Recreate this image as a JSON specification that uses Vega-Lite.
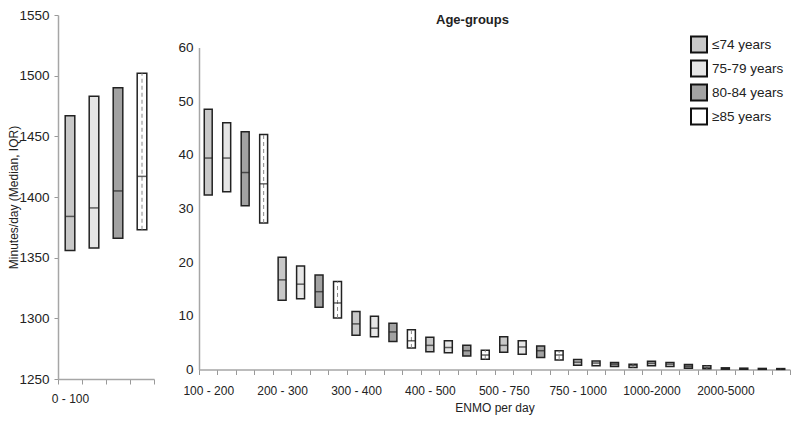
{
  "$schema": "https://vega.github.io/schema/vega-lite/v6.json",
  "background": "white",
  "padding": {"left": 7, "top": 8, "right": 5, "bottom": 5},
  "center": true,
  "config": {
    "font": "Liberation Sans",
    "view": {"stroke": null},
    "axis": {
      "labelFont": "Liberation Sans", "labelFontSize": 13.5, "labelColor": "#222",
      "domainColor": "#a6a6a6", "tickColor": "#999999", "domainWidth": 1.5, "tickWidth": 1,
      "grid": false, "titleFont": "Liberation Sans", "titleFontWeight": "normal",
      "titleFontSize": 12, "titleColor": "#222"
    },
    "legend": {"labelFont": "Liberation Sans"},
    "concat": {"spacing": 22}
  },
  "datasets": {
    "boxes": [
      {"enmo": "0 - 100", "age": "≤74 years", "q1": 1356, "median": 1384, "q3": 1467},
      {"enmo": "0 - 100", "age": "75-79 years", "q1": 1358, "median": 1391, "q3": 1483},
      {"enmo": "0 - 100", "age": "80-84 years", "q1": 1366, "median": 1405, "q3": 1490},
      {"enmo": "0 - 100", "age": "≥85 years", "q1": 1373, "median": 1417, "q3": 1502},
      {"enmo": "100 - 200", "age": "≤74 years", "q1": 32.5, "median": 39.4, "q3": 48.5},
      {"enmo": "100 - 200", "age": "75-79 years", "q1": 33.1, "median": 39.4, "q3": 46.0},
      {"enmo": "100 - 200", "age": "80-84 years", "q1": 30.5, "median": 36.7, "q3": 44.3},
      {"enmo": "100 - 200", "age": "≥85 years", "q1": 27.3, "median": 34.6, "q3": 43.8},
      {"enmo": "200 - 300", "age": "≤74 years", "q1": 12.9, "median": 16.7, "q3": 20.9},
      {"enmo": "200 - 300", "age": "75-79 years", "q1": 13.2, "median": 15.9, "q3": 19.3},
      {"enmo": "200 - 300", "age": "80-84 years", "q1": 11.6, "median": 14.5, "q3": 17.6},
      {"enmo": "200 - 300", "age": "≥85 years", "q1": 9.6, "median": 12.4, "q3": 16.4},
      {"enmo": "300 - 400", "age": "≤74 years", "q1": 6.4, "median": 8.5, "q3": 10.8},
      {"enmo": "300 - 400", "age": "75-79 years", "q1": 6.1, "median": 7.7, "q3": 9.9},
      {"enmo": "300 - 400", "age": "80-84 years", "q1": 5.2, "median": 7.0, "q3": 8.6},
      {"enmo": "300 - 400", "age": "≥85 years", "q1": 4.0, "median": 5.35, "q3": 7.4},
      {"enmo": "400 - 500", "age": "≤74 years", "q1": 3.3, "median": 4.5, "q3": 6.0},
      {"enmo": "400 - 500", "age": "75-79 years", "q1": 3.1, "median": 4.1, "q3": 5.35},
      {"enmo": "400 - 500", "age": "80-84 years", "q1": 2.5, "median": 3.5, "q3": 4.5},
      {"enmo": "400 - 500", "age": "≥85 years", "q1": 1.9, "median": 2.7, "q3": 3.6},
      {"enmo": "500 - 750", "age": "≤74 years", "q1": 3.2, "median": 4.5, "q3": 6.1},
      {"enmo": "500 - 750", "age": "75-79 years", "q1": 2.85, "median": 4.2, "q3": 5.35},
      {"enmo": "500 - 750", "age": "80-84 years", "q1": 2.25, "median": 3.5, "q3": 4.4},
      {"enmo": "500 - 750", "age": "≥85 years", "q1": 1.75, "median": 2.7, "q3": 3.5},
      {"enmo": "750 - 1000", "age": "≤74 years", "q1": 0.8, "median": 1.37, "q3": 1.87},
      {"enmo": "750 - 1000", "age": "75-79 years", "q1": 0.7, "median": 1.2, "q3": 1.6},
      {"enmo": "750 - 1000", "age": "80-84 years", "q1": 0.56, "median": 1.0, "q3": 1.3},
      {"enmo": "750 - 1000", "age": "≥85 years", "q1": 0.37, "median": 0.75, "q3": 1.0},
      {"enmo": "1000-2000", "age": "≤74 years", "q1": 0.68, "median": 1.17, "q3": 1.55},
      {"enmo": "1000-2000", "age": "75-79 years", "q1": 0.56, "median": 1.0, "q3": 1.3},
      {"enmo": "1000-2000", "age": "80-84 years", "q1": 0.25, "median": 0.62, "q3": 0.93},
      {"enmo": "1000-2000", "age": "≥85 years", "q1": 0.12, "median": 0.37, "q3": 0.7},
      {"enmo": "2000-5000", "age": "≤74 years", "q1": 0.06, "median": 0.15, "q3": 0.31},
      {"enmo": "2000-5000", "age": "75-79 years", "q1": 0.05, "median": 0.13, "q3": 0.25},
      {"enmo": "2000-5000", "age": "80-84 years", "q1": 0.03, "median": 0.1, "q3": 0.2},
      {"enmo": "2000-5000", "age": "≥85 years", "q1": 0.02, "median": 0.08, "q3": 0.17}
    ]
  },
  "resolve": {"scale": {"fill": "independent"}, "legend": {"fill": "independent"}},
  "hconcat": [
    {
      "width": 96,
      "height": 364,
      "data": {"name": "boxes"},
      "transform": [
        {"filter": "datum.enmo == '0 - 100'"},
        {"calculate": "datum.enmo + ' | ' + datum.age", "as": "key"}
      ],
      "encoding": {
        "x": {
          "field": "key", "type": "nominal", "sort": null,
          "scale": {"paddingInner": 0, "paddingOuter": 0},
          "axis": {
            "title": " ", "titlePadding": 31, "labelAngle": 0, "tickBand": "extent", "tickSize": 5,
            "labelPadding": 9, "labelOverlap": false, "labelFontSize": 12,
            "labelExpr": "isValid(datum.value) && indexof(datum.value, '≤74') > 0 ? '0 - 100' : ''"
          }
        }
      },
      "layer": [
        {
          "mark": {"type": "bar", "width": {"band": 0.4}, "stroke": "#222", "strokeWidth": 1.5},
          "encoding": {
            "y": {
              "field": "q1", "type": "quantitative",
              "scale": {"domain": [1250, 1550], "nice": false, "zero": false},
              "axis": {
                "values": [1250, 1300, 1350, 1400, 1450, 1500, 1550], "format": "d",
                "title": "Minutes/day (Median, IQR)", "tickSize": 4, "labelPadding": 5,
                "titlePadding": -2
              }
            },
            "y2": {"field": "q3"},
            "fill": {
              "field": "age", "type": "nominal",
              "scale": {"domain": ["≤74 years", "75-79 years", "80-84 years", "≥85 years"], "range": ["#c8c8c8", "#e6e6e6", "#a2a2a2", "#ffffff"]},
              "legend": null
            }
          }
        },
        {
          "transform": [{"filter": "datum.age == '≥85 years'"}],
          "mark": {"type": "rule", "strokeDash": [4, 3], "color": "#888", "strokeWidth": 1},
          "encoding": {"y": {"field": "q1", "type": "quantitative"}, "y2": {"field": "q3"}}
        },
        {
          "mark": {"type": "tick", "orient": "horizontal", "size": 10, "thickness": 1.5, "color": "#222"},
          "encoding": {"y": {"field": "median", "type": "quantitative"}}
        }
      ]
    },
    {
      "width": 591,
      "height": 322,
      "title": {"text": "Age-groups", "fontWeight": "bold", "fontSize": 13, "font": "Liberation Sans", "color": "#222", "anchor": "middle", "dx": -22, "offset": 9},
      "data": {"name": "boxes"},
      "transform": [
        {"filter": "datum.enmo != '0 - 100'"},
        {"calculate": "datum.enmo + ' | ' + datum.age", "as": "key"}
      ],
      "encoding": {
        "x": {
          "field": "key", "type": "nominal", "sort": null,
          "scale": {"paddingInner": 0, "paddingOuter": 0},
          "axis": {
            "title": "ENMO per day", "titlePadding": 6, "labelAngle": 0, "tickBand": "extent", "tickSize": 5,
            "labelPadding": 11, "labelOverlap": false, "labelFontSize": 12,
            "labelExpr": "isValid(datum.value) && indexof(datum.value, '≤74') > 0 ? slice(datum.value, 0, indexof(datum.value, ' | ')) : ''"
          }
        }
      },
      "layer": [
        {
          "mark": {"type": "bar", "width": {"band": 0.43}, "stroke": "#222", "strokeWidth": 1.5},
          "encoding": {
            "y": {
              "field": "q1", "type": "quantitative",
              "scale": {"domain": [0, 60], "nice": false},
              "axis": {"values": [0, 10, 20, 30, 40, 50, 60], "title": null, "tickSize": 0, "labelPadding": 6}
            },
            "y2": {"field": "q3"},
            "fill": {
              "field": "age", "type": "nominal",
              "scale": {"domain": ["≤74 years", "75-79 years", "80-84 years", "≥85 years"], "range": ["#c8c8c8", "#e6e6e6", "#a2a2a2", "#ffffff"]},
              "legend": {
                "title": null, "orient": "none", "legendX": 491, "legendY": -12,
                "symbolType": "square", "symbolSize": 256, "symbolStrokeColor": "#111", "symbolStrokeWidth": 2,
                "labelFontSize": 13.5, "labelColor": "#222", "rowPadding": 0, "labelOffset": 4
              }
            }
          }
        },
        {
          "transform": [{"filter": "datum.age == '≥85 years'"}],
          "mark": {"type": "rule", "strokeDash": [4, 3], "color": "#888", "strokeWidth": 1},
          "encoding": {"y": {"field": "q1", "type": "quantitative"}, "y2": {"field": "q3"}}
        },
        {
          "mark": {"type": "tick", "orient": "horizontal", "size": 8, "thickness": 1.5, "color": "#222"},
          "encoding": {"y": {"field": "median", "type": "quantitative"}}
        }
      ]
    }
  ]
}
